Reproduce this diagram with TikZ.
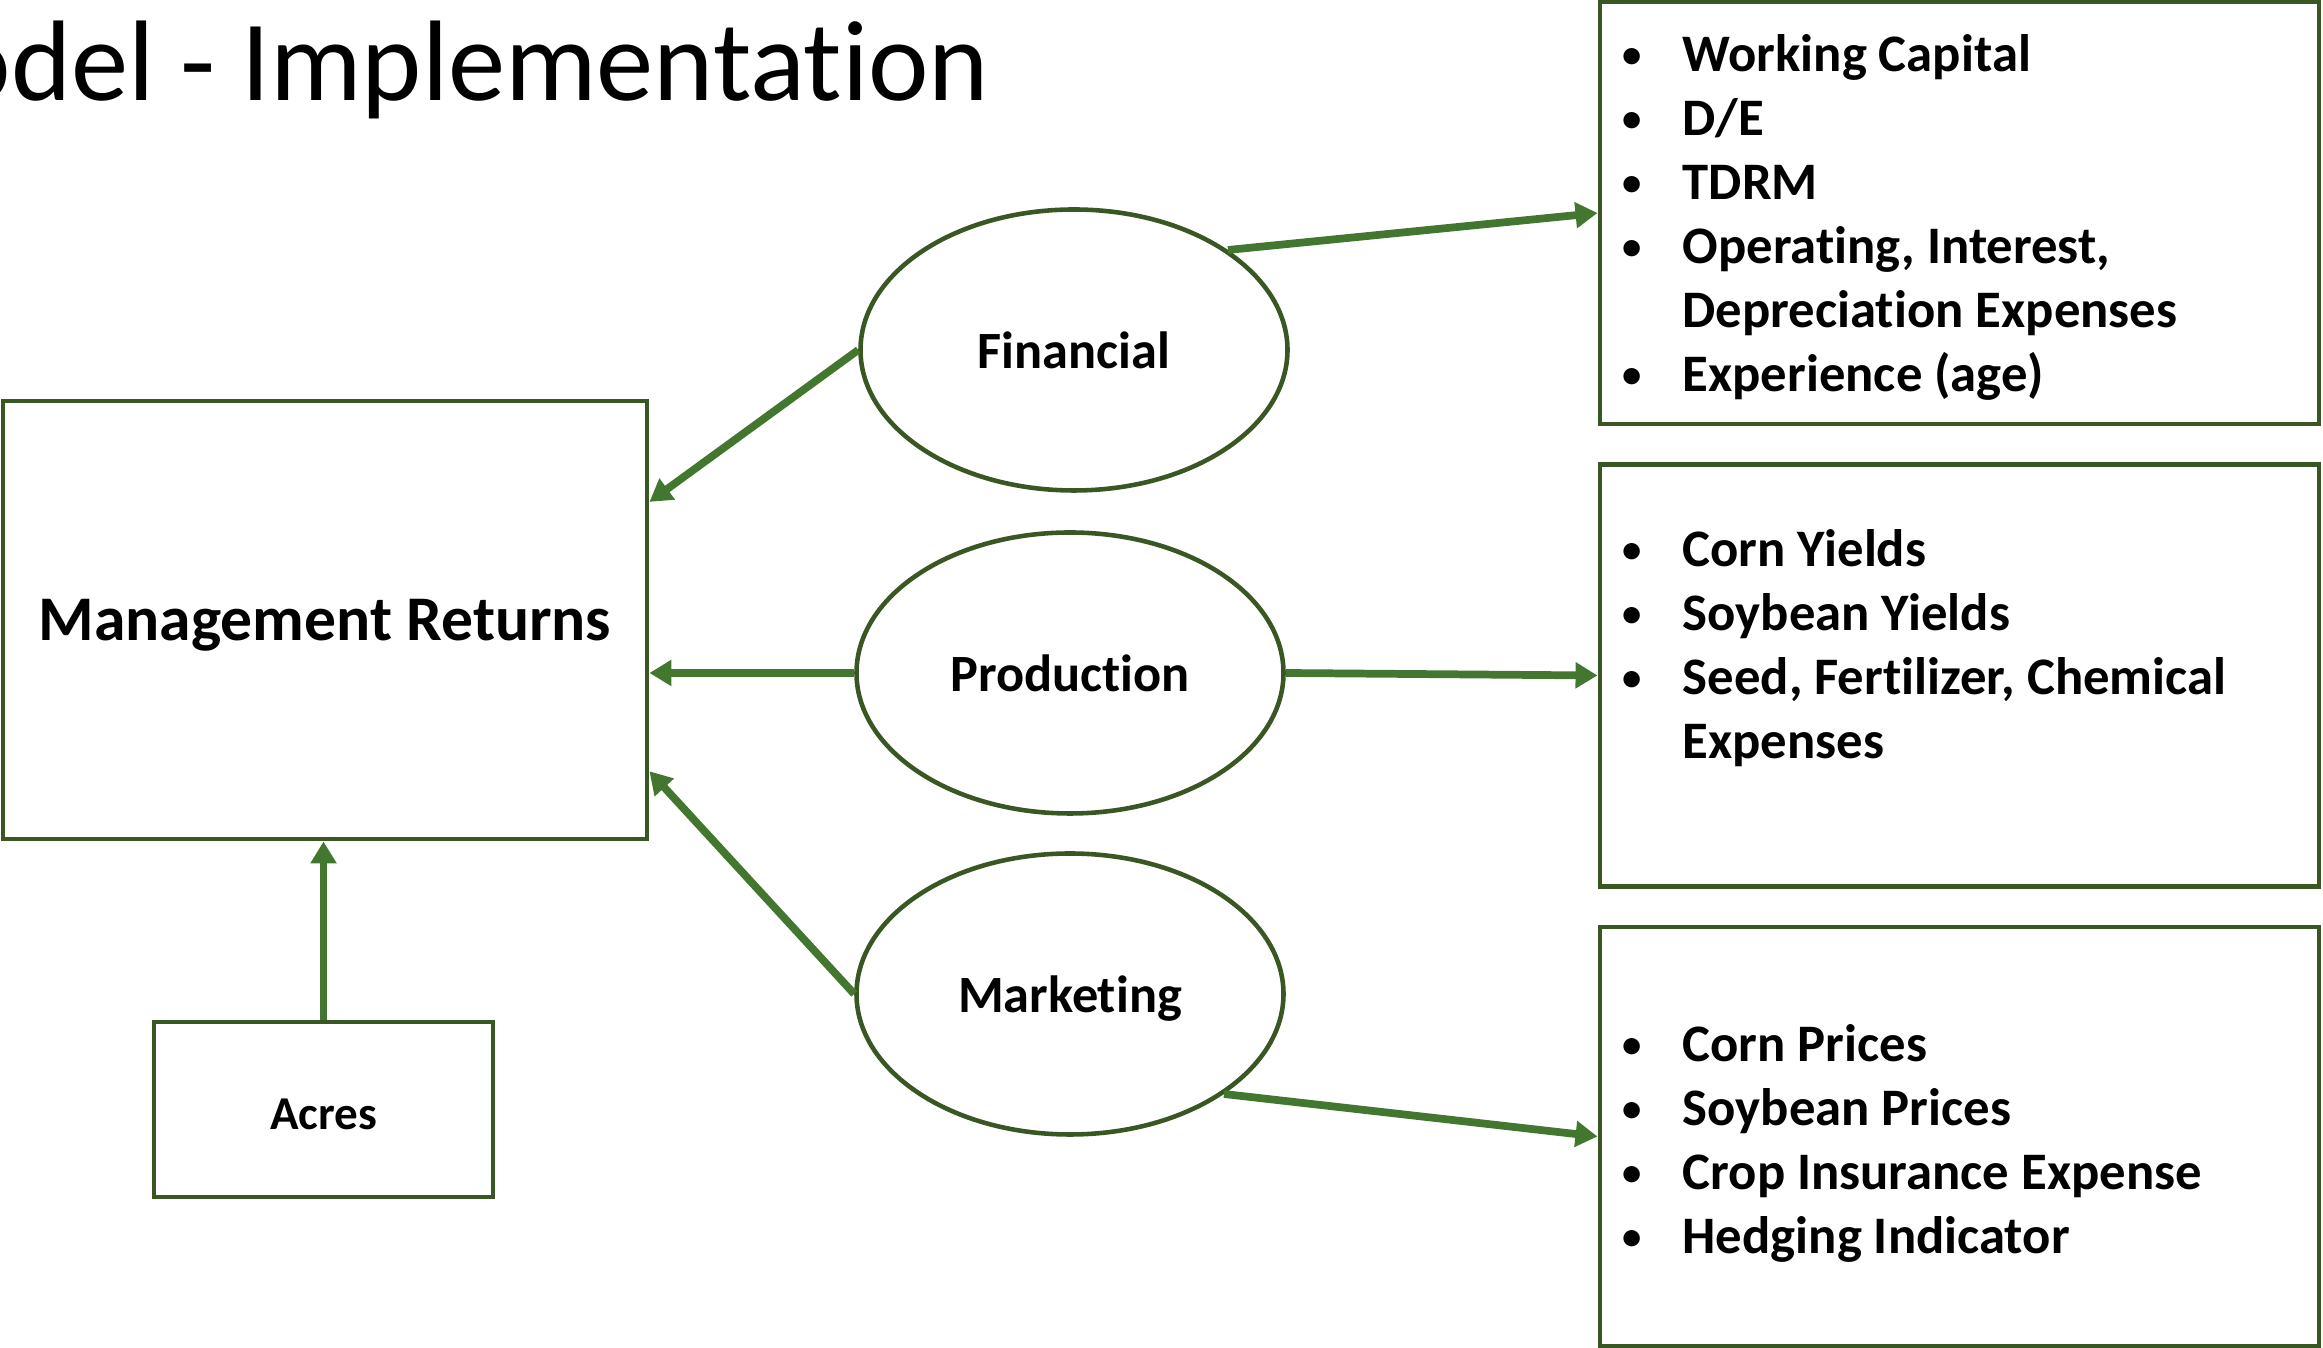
\documentclass[tikz,border=0pt]{standalone}
\usepackage{fontspec}
\setmainfont{Carlito}[Ligatures=NoCommon]
\usepackage{tikz}
\usetikzlibrary{shapes,arrows,positioning,calc,arrows.meta}

\definecolor{boxgreen}{RGB}{56,87,35}
\definecolor{arrowgreen}{RGB}{67,118,46}

\newcommand{\itembullet}{\raisebox{1.2pt}{\fontsize{11}{12}\selectfont\textbullet}}

\begin{document}
\begin{tikzpicture}[
        box/.style={draw=boxgreen, line width=1.4pt, minimum width=7.19cm, minimum height=4.22cm, inner sep=0pt},
        oval/.style={draw=boxgreen, ellipse, line width=1.3pt, minimum width=4.27cm, minimum height=2.81cm, inner sep=0pt, text depth=0pt, font=\fontsize{14.9}{18}\selectfont\bfseries},
        link/.style={draw=arrowgreen, line width=2.2pt, -{Triangle[length=0.22cm,width=0.25cm]}},
        items/.style={anchor=base west, inner sep=0pt, font=\fontsize{15}{18.2}\selectfont\bfseries}
    ]
        \useasboundingbox (0,0) rectangle (23.23,13.48);
        \clip (0,0) rectangle (23.23,13.48);
        \node[anchor=base east, inner sep=0pt, font=\fontsize{32.6}{39}\selectfont] (title) at (9.90,12.47) {odel - Implementation};

        % left side
        \node[draw=boxgreen, line width=1.4pt, minimum width=6.44cm, minimum height=4.38cm, text depth=0pt, font=\fontsize{18.1}{21}\selectfont\bfseries] (returns) at (3.25,7.28) {Management Returns};
        \node[draw=boxgreen, line width=1.4pt, minimum width=3.39cm, minimum height=1.75cm, text height=11.2pt, text depth=0pt, font=\fontsize{13.4}{16}\selectfont\bfseries] (acres) at (3.235,2.385) {Acres};

        % the three groups
        \node[oval] (financial) at (10.74,9.98) {Financial};
        \node[oval] (production) at (10.70,6.75) {Production};
        \node[oval] (marketing) at (10.70,3.54) {Marketing};

        % variable lists
        \node[box] (finlist) at (19.595,11.35) {};
        \node[box] (prodlist) at (19.595,6.725) {};
        \node[box, minimum height=4.19cm] (marklist) at (19.595,2.115) {};

        \node[items] (fintext) at (16.22,12.76) {\begin{tabular}[t]{@{}p{0.6cm}@{}l@{}}
            \itembullet & Working Capital\\
            \itembullet & D/E\\
            \itembullet & TDRM\\
            \itembullet & Operating, Interest,\\
                        & Depreciation Expenses\\
            \itembullet & Experience (age)
        \end{tabular}};
        \node[items] (prodtext) at (16.22,7.81) {\begin{tabular}[t]{@{}p{0.6cm}@{}l@{}}
            \itembullet & Corn Yields\\
            \itembullet & Soybean Yields\\
            \itembullet & Seed, Fertilizer, Chemical\\
                        & Expenses
        \end{tabular}};
        \node[items] (marktext) at (16.22,2.86) {\begin{tabular}[t]{@{}p{0.6cm}@{}l@{}}
            \itembullet & Corn Prices\\
            \itembullet & Soybean Prices\\
            \itembullet & Crop Insurance Expense\\
            \itembullet & Hedging Indicator
        \end{tabular}};

        % arrows
        \draw[link] (financial.west) -- (returns.20.75);
        \draw[link] (production.west) -- (production.west -| returns.east);
        \draw[link] (marketing.west) -- (returns.-25.5);
        \draw[link] (acres.north) -- (acres.north |- returns.south);
        \draw[link] (financial.33.4) -- (finlist.west);
        \draw[link] (production.east) -- (prodlist.west);
        \draw[link] (marketing.-33.8) -- (marklist.west);
    \end{tikzpicture}
\end{document}
